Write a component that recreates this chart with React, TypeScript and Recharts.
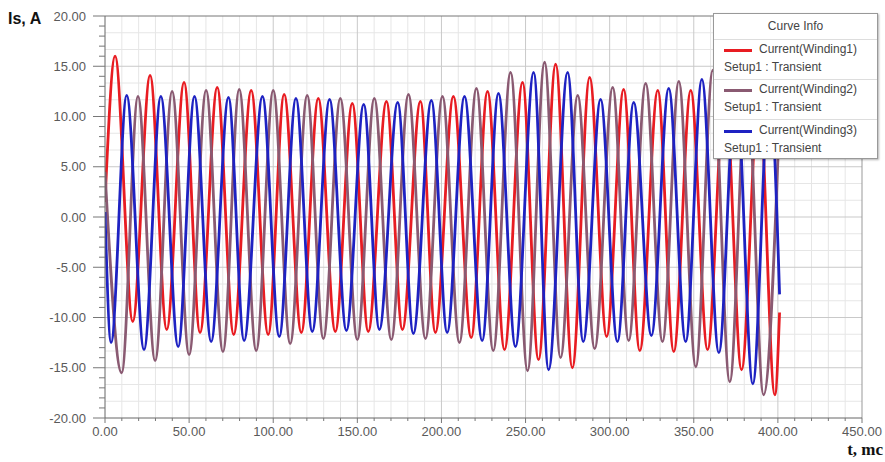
import React from 'react';
import { LineChart, Line, XAxis, YAxis, ReferenceLine } from 'recharts';

// Time (ms) of each read point and current (A) for each winding
const redT = [0, 6, 16.5, 26.8, 36.7, 47, 56.5, 66.7, 76.5, 86.9, 97, 106.5, 116.7, 126.8, 136.9, 147, 156.5, 167.3, 176.8, 187.5, 196.4, 207.1, 217.7, 227.4, 237.5, 248.2, 257.7, 267.9, 277.8, 288.1, 298.2, 308.3, 317.9, 328.6, 338.1, 348.2, 358.2, 368.5, 378.4, 388.7, 398.2, 401];
const redV = [1.5, 16.0, -10.4, 14.1, -11.2, 13.4, -11.5, 12.9, -11.7, 12.6, -11.7, 12.2, -11.5, 11.8, -11.4, 11.3, -11.4, 11.5, -11.2, 11.5, -11.5, 12.0, -12.0, 12.5, -13.2, 13.4, -14.2, 15.2, -15.0, 13.9, -11.9, 12.7, -13.3, 12.6, -13.4, 12.6, -13.2, 13.0, -15.2, 12.5, -17.7, -9.5];

const purpleT = [0, 9.9, 19.6, 29.8, 39.9, 50, 60.1, 70.1, 79.8, 89.9, 100, 110.1, 120.2, 129.8, 139.9, 150, 160.1, 170.2, 180.4, 190.5, 200.6, 210.7, 220.8, 230.8, 241.1, 251.2, 261.3, 270.8, 281, 291.1, 301.8, 311.3, 321.4, 331.4, 341.1, 351.2, 361.3, 371.4, 381.5, 391.5, 401];
const purpleV = [4.5, -15.5, 12.0, -14.3, 12.5, -13.7, 12.6, -13.4, 12.7, -13.3, 12.6, -12.6, 12.1, -12.1, 11.8, -12.2, 11.8, -12.2, 12.2, -12.1, 12.0, -12.5, 12.8, -13.3, 14.4, -15.3, 15.4, -14.0, 12.1, -13.1, 12.9, -12.3, 13.3, -12.4, 13.5, -14.9, 14.6, -16.4, 14.0, -17.7, 10.0];

const blueT = [0, 3.6, 12.9, 23.2, 33.2, 43.5, 53.2, 63.1, 73.4, 82.7, 93.6, 103.6, 113.5, 123.2, 133.5, 143.5, 153.8, 163.1, 174, 183.3, 194, 203.4, 213.7, 224.2, 233.9, 244, 254.8, 263.7, 275, 284.3, 294.6, 304.6, 314.3, 324.8, 335.1, 345.2, 354.8, 364.9, 375, 385.1, 395, 401];
const blueV = [0.5, -12.5, 12.1, -13.2, 12.0, -12.9, 12.0, -12.4, 11.9, -12.3, 12.0, -11.9, 11.8, -11.4, 11.7, -11.3, 11.2, -11.2, 11.4, -11.6, 11.6, -11.5, 12.0, -12.3, 12.3, -12.9, 14.4, -15.2, 14.4, -12.4, 11.7, -12.4, 11.4, -11.8, 12.8, -12.4, 13.7, -13.5, 13.5, -16.6, 13.0, -7.7];

const xTicksMajor = [0, 50, 100, 150, 200, 250, 300, 350, 400, 450];
const yTicksMajor = [-20, -15, -10, -5, 0, 5, 10, 15, 20];

const seriesNames = ['Current(Winding1)', 'Current(Winding2)', 'Current(Winding3)'];
const seriesSub = 'Setup1 : Transient';
const COLORS = ['#e81c22', '#8a5a72', '#1e22c2'];

const toData = (t: number[], v: number[]) => t.map((tt, i) => ({ t: tt, v: v[i] }));
const redData = toData(redT, redV);
const purpleData = toData(purpleT, purpleV);
const blueData = toData(blueT, blueV);

// tick & grid positions (every 10 ms, every 1 A; minor grid every 5/3 A)
const xTickAll: number[] = [];
for (let i = 0; i <= 45; i++) xTickAll.push(i * 10);
const yTickAll: number[] = [];
for (let i = -20; i <= 20; i++) yTickAll.push(i);
const xGridMinor = xTickAll.filter((v) => v % 50 !== 0);
const xGridMajor = xTicksMajor.filter((v) => v > 0 && v < 450);
const yGridMinor: number[] = [];
for (let i = 1; i < 24; i++) if (i % 3 !== 0) yGridMinor.push(-20 + (i * 5) / 3);
const yGridMajor = yTicksMajor.filter((v) => v > -20 && v < 20);

const FONT = '"Liberation Sans", Arial, sans-serif';

const YTick = (props: any) => {
  const { x, y, payload } = props;
  const v = payload.value;
  const major = Math.abs(v % 5) < 1e-9;
  return (
    <g>
      <line x1={x - (major ? 12 : 6)} x2={x} y1={y} y2={y} stroke="#777" strokeWidth={1} />
      {major && (
        <text x={x - 19} y={y} dy={4.5} textAnchor="end" fontSize={13} fill="#5a5a5a" fontFamily={FONT}>
          {v.toFixed(2)}
        </text>
      )}
    </g>
  );
};

const XTick = (props: any) => {
  const { x, y, payload } = props;
  const v = payload.value;
  const major = v % 50 === 0;
  return (
    <g>
      <line x1={x} x2={x} y1={y} y2={y + (major ? 5 : 3)} stroke="#777" strokeWidth={1} />
      {major && (
        <text x={x} y={y + 18} textAnchor="middle" fontSize={13} fill="#5a5a5a" fontFamily={FONT}>
          {v.toFixed(2)}
        </text>
      )}
    </g>
  );
};

export default function App() {
  const legendRows = [
    { line: 49, sub: 67 },
    { line: 89, sub: 107 },
    { line: 130, sub: 148 },
  ];
  return (
    <div style={{ position: 'absolute', left: 0, top: 0, width: 885, height: 462, background: '#fff' }}>
      <LineChart width={885} height={462} margin={{ top: 16, right: 23, left: 0, bottom: 0 }}>
        {xGridMinor.map((v) => (
          <ReferenceLine key={'xm' + v} x={v} stroke="#e6e6e6" strokeWidth={1} />
        ))}
        {yGridMinor.map((v) => (
          <ReferenceLine key={'ym' + v} y={v} stroke="#e6e6e6" strokeWidth={1} />
        ))}
        {xGridMajor.map((v) => (
          <ReferenceLine key={'xM' + v} x={v} stroke="#c9c9c9" strokeWidth={1} />
        ))}
        {yGridMajor.map((v) => (
          <ReferenceLine key={'yM' + v} y={v} stroke="#c9c9c9" strokeWidth={1} />
        ))}
        <ReferenceLine y={20} stroke="#777" strokeWidth={1} />
        <ReferenceLine x={450} stroke="#999" strokeWidth={1} />
        <XAxis
          type="number"
          dataKey="t"
          domain={[0, 450]}
          ticks={xTickAll}
          interval={0}
          height={44}
          tickSize={0}
          tickMargin={0}
          tickLine={false}
          axisLine={{ stroke: '#666' }}
          tick={<XTick />}
          allowDataOverflow
        />
        <YAxis
          type="number"
          domain={[-20, 20]}
          ticks={yTickAll}
          interval={0}
          width={105}
          tickSize={0}
          tickMargin={0}
          tickLine={false}
          axisLine={{ stroke: '#666' }}
          tick={<YTick />}
          allowDataOverflow
        />
        <Line data={redData} dataKey="v" type="monotone" stroke={COLORS[0]} strokeWidth={2.8} dot={false} activeDot={false} isAnimationActive={false} />
        <Line data={purpleData} dataKey="v" type="monotone" stroke={COLORS[1]} strokeWidth={2.8} dot={false} activeDot={false} isAnimationActive={false} />
        <Line data={blueData} dataKey="v" type="monotone" stroke={COLORS[2]} strokeWidth={2.8} dot={false} activeDot={false} isAnimationActive={false} />
      </LineChart>

      <div style={{ position: 'absolute', left: 8, top: 10, fontFamily: FONT, fontWeight: 'bold', fontSize: 16, color: '#111' }}>
        Is, A
      </div>
      <div style={{ position: 'absolute', right: 2, top: 440, fontFamily: '"Liberation Serif", "Times New Roman", serif', fontWeight: 'bold', fontSize: 17, color: '#111' }}>
        t, mc
      </div>

      <div
        style={{
          position: 'absolute',
          left: 713,
          top: 13,
          width: 163,
          height: 144,
          background: '#fff',
          border: '1px solid #999',
          boxShadow: '1px 1px 2px rgba(0,0,0,0.3)',
          fontFamily: FONT,
          fontSize: 12,
          color: '#444',
        }}
      >
        <div style={{ position: 'absolute', left: 0, width: 163, top: 5, textAlign: 'center' }}>Curve Info</div>
        {[25, 65, 105].map((t) => (
          <div key={t} style={{ position: 'absolute', left: 0, width: 163, top: t, height: 1, background: '#ddd' }} />
        ))}
        {legendRows.map((r, i) => (
          <React.Fragment key={i}>
            <div style={{ position: 'absolute', left: 10, top: r.line - 13 - 1.5, width: 28, height: 3, background: COLORS[i] }} />
            <div style={{ position: 'absolute', left: 45, top: r.line - 13 - 8, whiteSpace: 'nowrap' }}>{seriesNames[i]}</div>
            <div style={{ position: 'absolute', left: 10, top: r.sub - 13 - 8, whiteSpace: 'nowrap' }}>{seriesSub}</div>
          </React.Fragment>
        ))}
      </div>
    </div>
  );
}
